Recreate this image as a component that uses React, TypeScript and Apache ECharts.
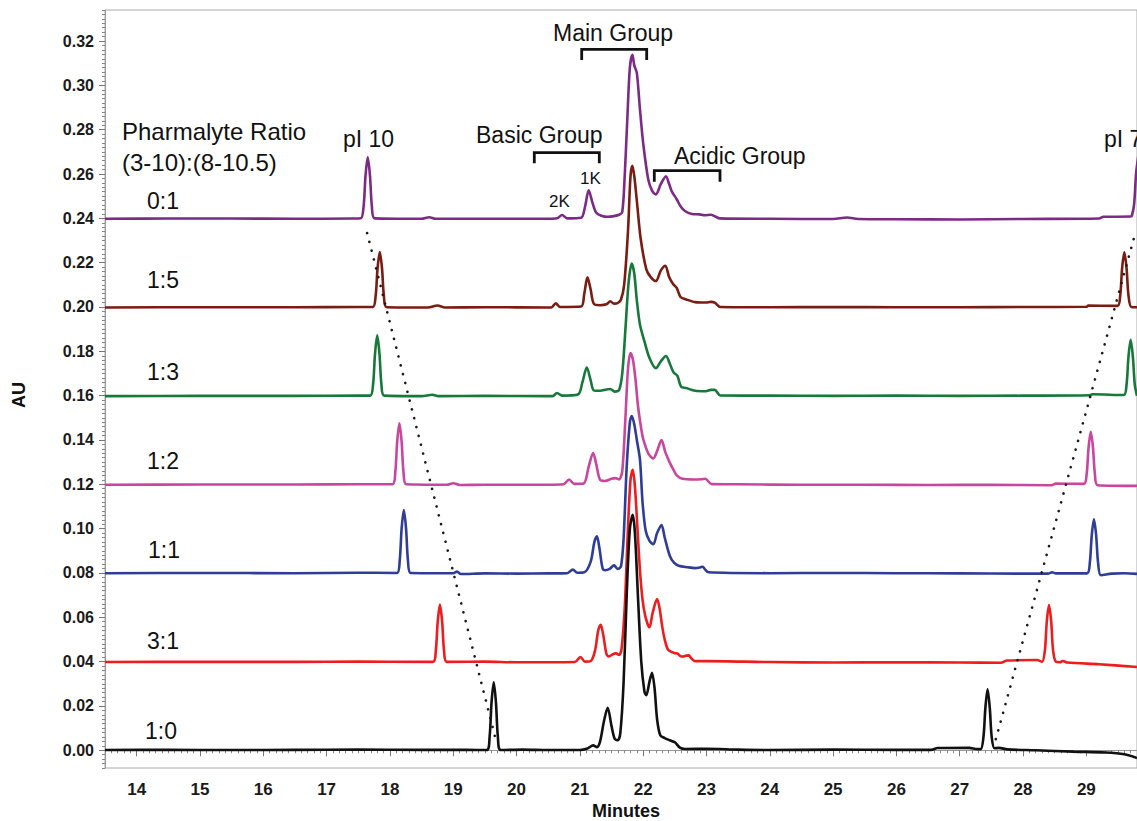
import React, { useEffect, useRef } from "react";
import * as echarts from "echarts";

const xMajorTicks = [14, 15, 16, 17, 18, 19, 20, 21, 22, 23, 24, 25, 26, 27, 28, 29];
const yMajorTicks = [0, 0.02, 0.04, 0.06, 0.08, 0.1, 0.12, 0.14, 0.16, 0.18, 0.2, 0.22, 0.24, 0.26, 0.28, 0.3, 0.32];

const ratioNames = ["0:1", "1:5", "1:3", "1:2", "1:1", "3:1", "1:0"];
const traceColors = ["#7d2a86", "#7b1c12", "#16793a", "#c8469e", "#2e3d98", "#ee1c1c", "#111111"];

// 0:1 (purple, offset 0.24)
const ratio0to1 = [
  [13.5, 0.2398], [14.5, 0.2399], [15.5, 0.2399], [16.5, 0.2398], [17.4, 0.2399], [17.54, 0.24], [17.585, 0.2455], [17.615, 0.2593], [17.65, 0.2675], [17.685, 0.2593], [17.715, 0.2455], [17.76, 0.24],
  [18.5, 0.2398], [18.62, 0.2405], [18.72, 0.2398], [19.5, 0.2398], [20.5, 0.2398], [20.64, 0.24], [20.72, 0.2415], [20.8, 0.24],
  [21.02, 0.2403], [21.08, 0.245], [21.14, 0.2526], [21.2, 0.247], [21.26, 0.2425], [21.34, 0.2412], [21.44, 0.2407], [21.54, 0.241], [21.62, 0.2416], [21.67, 0.2428],
  [21.71, 0.26], [21.75, 0.285], [21.79, 0.308], [21.83, 0.3138], [21.86, 0.309], [21.9, 0.3056], [21.95, 0.289], [22.0, 0.274], [22.08, 0.2576], [22.14, 0.2525], [22.2, 0.2508],
  [22.28, 0.2555], [22.36, 0.259], [22.41, 0.2555], [22.45, 0.2523], [22.53, 0.2486], [22.59, 0.2455], [22.66, 0.2433], [22.77, 0.242], [22.89, 0.2418], [22.97, 0.2414], [23.07, 0.2416], [23.14, 0.2408], [23.21, 0.24],
  [24, 0.2398], [25, 0.2397], [25.22, 0.2404], [25.4, 0.2397], [26, 0.2396], [27, 0.2395], [28, 0.2397], [29.2, 0.2399], [29.27, 0.2407], [29.7, 0.2408], [29.72, 0.2412], [29.755, 0.2465], [29.785, 0.26], [29.82, 0.268],
];

// 1:5 (dark red, offset 0.20)
const ratio1to5 = [
  [13.5, 0.1998], [15, 0.1999], [16.5, 0.1999], [17.5, 0.2], [17.73, 0.2], [17.775, 0.205], [17.805, 0.2175], [17.84, 0.2248], [17.875, 0.2175], [17.905, 0.205], [17.95, 0.1999],
  [18.6, 0.1998], [18.75, 0.2007], [18.87, 0.1998], [19.5, 0.1999], [20.5, 0.1998], [20.55, 0.1998], [20.62, 0.2017], [20.69, 0.2],
  [21.02, 0.2002], [21.07, 0.206], [21.12, 0.2134], [21.17, 0.208], [21.22, 0.2015], [21.32, 0.2008], [21.42, 0.2012], [21.48, 0.2026], [21.54, 0.2015], [21.6, 0.2018], [21.65, 0.2034],
  [21.7, 0.21], [21.76, 0.234], [21.8, 0.259], [21.83, 0.2637], [21.86, 0.259], [21.9, 0.248], [21.96, 0.231], [22.05, 0.217], [22.12, 0.2135], [22.2, 0.2117],
  [22.28, 0.2165], [22.35, 0.2186], [22.41, 0.2135], [22.47, 0.2105], [22.53, 0.2086], [22.59, 0.2045], [22.68, 0.2034], [22.82, 0.2022], [22.99, 0.202], [23.07, 0.2023], [23.13, 0.202], [23.22, 0.2],
  [24, 0.1999], [25, 0.2], [26, 0.1999], [27, 0.1999], [28, 0.2], [29.0, 0.2001], [29.03, 0.2006], [29.49, 0.2005], [29.535, 0.2053], [29.565, 0.2175], [29.6, 0.2247], [29.635, 0.2175], [29.665, 0.2053], [29.71, 0.2], [29.8, 0.1999],
];

// 1:3 (green, offset 0.16)
const ratio1to3 = [
  [13.5, 0.1598], [15, 0.1599], [16.5, 0.1599], [17.5, 0.16], [17.69, 0.16], [17.735, 0.1654], [17.765, 0.179], [17.8, 0.1872], [17.835, 0.179], [17.865, 0.1654], [17.91, 0.16],
  [18.5, 0.1598], [18.67, 0.1604], [18.77, 0.1598], [19.5, 0.1599], [20.5, 0.1598], [20.57, 0.1598], [20.64, 0.1612], [20.72, 0.16],
  [20.97, 0.1605], [21.04, 0.166], [21.11, 0.1727], [21.17, 0.167], [21.22, 0.1624], [21.32, 0.1622], [21.42, 0.1628], [21.48, 0.163], [21.55, 0.1618], [21.62, 0.1625],
  [21.67, 0.17], [21.72, 0.19], [21.77, 0.211], [21.82, 0.2196], [21.86, 0.215], [21.9, 0.203], [21.95, 0.192], [22.02, 0.1845], [22.1, 0.177], [22.2, 0.1724],
  [22.28, 0.1755], [22.36, 0.1779], [22.42, 0.1745], [22.48, 0.1705], [22.54, 0.169], [22.6, 0.164], [22.68, 0.1634], [22.82, 0.1622], [22.99, 0.162], [23.07, 0.1626], [23.13, 0.1626], [23.22, 0.1601],
  [24, 0.16], [25, 0.1599], [26, 0.16], [27, 0.1599], [28, 0.16], [29.05, 0.1602], [29.1, 0.1606], [29.59, 0.1603], [29.635, 0.165], [29.665, 0.1775], [29.7, 0.1852], [29.735, 0.1775], [29.765, 0.165], [29.8, 0.1599],
];

// 1:2 (pink, offset 0.12)
const ratio1to2 = [
  [13.5, 0.1198], [15, 0.1199], [16.5, 0.1199], [17.5, 0.12], [18.04, 0.12], [18.085, 0.1255], [18.115, 0.1393], [18.15, 0.1475], [18.185, 0.1393], [18.215, 0.1255], [18.26, 0.12],
  [18.9, 0.1198], [19.0, 0.1205], [19.1, 0.1197], [19.5, 0.1198], [20.5, 0.1198], [20.74, 0.12], [20.83, 0.1222], [20.91, 0.1202],
  [21.06, 0.1204], [21.14, 0.128], [21.21, 0.1341], [21.26, 0.129], [21.32, 0.122], [21.4, 0.1215], [21.5, 0.1225], [21.56, 0.1228], [21.62, 0.1222],
  [21.67, 0.126], [21.72, 0.15], [21.76, 0.172], [21.8, 0.1792], [21.84, 0.176], [21.88, 0.167], [21.92, 0.155], [21.97, 0.145], [22.0, 0.1405], [22.08, 0.134], [22.16, 0.1317],
  [22.22, 0.135], [22.29, 0.14], [22.35, 0.1345], [22.42, 0.1298], [22.48, 0.1265], [22.53, 0.124], [22.62, 0.1225], [22.8, 0.1222], [22.92, 0.1223], [22.98, 0.1225], [23.08, 0.1201],
  [23.5, 0.12], [24.5, 0.1198], [25.5, 0.1198], [26.5, 0.1197], [27.5, 0.1198], [28.45, 0.1196], [28.52, 0.1203], [28.96, 0.1202], [29.005, 0.1247], [29.035, 0.1366], [29.07, 0.1437], [29.105, 0.1366], [29.135, 0.1247], [29.18, 0.1196], [29.8, 0.1193],
];

// 1:1 (blue, offset 0.08)
const ratio1to1 = [
  [13.5, 0.0799], [15, 0.08], [16.5, 0.0799], [17.5, 0.0801], [18.11, 0.08], [18.155, 0.0857], [18.185, 0.1], [18.22, 0.1084], [18.255, 0.1], [18.285, 0.0857], [18.33, 0.08],
  [19.0, 0.0799], [19.06, 0.0806], [19.12, 0.0795], [19.5, 0.0798], [20, 0.0797], [20.5, 0.0798], [20.8, 0.0799], [20.89, 0.0815], [20.96, 0.0801],
  [21.07, 0.0803], [21.17, 0.085], [21.23, 0.094], [21.27, 0.0965], [21.31, 0.091], [21.36, 0.082], [21.4, 0.0812], [21.47, 0.0818], [21.54, 0.0834], [21.6, 0.0818], [21.65, 0.083],
  [21.69, 0.095], [21.74, 0.128], [21.79, 0.148], [21.82, 0.1508], [21.86, 0.147], [21.9, 0.14], [21.95, 0.131], [21.99, 0.112], [22.04, 0.099], [22.1, 0.0945], [22.16, 0.093],
  [22.22, 0.098], [22.29, 0.1016], [22.34, 0.096], [22.42, 0.0878], [22.49, 0.0845], [22.56, 0.0833], [22.7, 0.0826], [22.82, 0.0822], [22.9, 0.0825], [22.94, 0.0828], [22.98, 0.0815], [23.03, 0.0803],
  [24, 0.0799], [25, 0.08], [26, 0.0799], [27, 0.0798], [28, 0.0797], [28.4, 0.0797], [28.46, 0.0803], [28.52, 0.0798], [29.01, 0.0798], [29.055, 0.0847], [29.085, 0.0969], [29.12, 0.1042], [29.155, 0.0969], [29.185, 0.0847], [29.23, 0.079], [29.4, 0.0797], [29.6, 0.0799], [29.8, 0.0796],
];

// 3:1 (red, offset 0.04)
const ratio3to1 = [
  [13.5, 0.0398], [15, 0.0399], [16.5, 0.0399], [17.5, 0.04], [18.68, 0.0399], [18.725, 0.045], [18.755, 0.058], [18.79, 0.0657], [18.825, 0.058], [18.855, 0.045], [18.9, 0.0399],
  [19.5, 0.04], [20, 0.0397], [20.5, 0.0397], [20.92, 0.0398], [21.01, 0.0421], [21.08, 0.04], [21.17, 0.0402], [21.24, 0.045], [21.29, 0.054], [21.33, 0.0566], [21.37, 0.052], [21.42, 0.0435], [21.46, 0.0423], [21.52, 0.0433], [21.57, 0.0437], [21.62, 0.043],
  [21.66, 0.046], [21.71, 0.065], [21.76, 0.1], [21.8, 0.122], [21.835, 0.1265], [21.87, 0.119], [21.91, 0.1], [21.95, 0.081], [21.99, 0.068], [22.03, 0.061], [22.07, 0.057], [22.1, 0.0555],
  [22.15, 0.062], [22.22, 0.0682], [22.26, 0.064], [22.3, 0.056], [22.34, 0.05], [22.39, 0.0455], [22.44, 0.0445], [22.5, 0.0438], [22.54, 0.0437], [22.59, 0.0425], [22.63, 0.0423], [22.68, 0.0427], [22.72, 0.0428], [22.76, 0.0415], [22.82, 0.0402],
  [23, 0.0402], [24, 0.0398], [25, 0.0396], [26, 0.0397], [27, 0.0396], [27.65, 0.0395], [27.75, 0.0405], [28.22, 0.0407], [28.3, 0.0399], [28.345, 0.045], [28.375, 0.058], [28.41, 0.0655], [28.445, 0.058], [28.475, 0.045], [28.52, 0.0399], [28.58, 0.0397], [28.63, 0.0403], [28.7, 0.0396], [29.2, 0.0388], [29.8, 0.0376],
];

// 1:0 (black, offset 0)
const ratio1to0 = [
  [13.5, 0.0001], [14.5, 0.0002], [15.5, 0.0001], [16.5, 0.0002], [17.5, 0.0003], [18.5, 0.0002], [19.2, 0.0002], [19.53, 0.0001], [19.575, 0.0062], [19.605, 0.0215], [19.64, 0.0307], [19.675, 0.0215], [19.705, 0.0062], [19.75, 0.0001],
  [20.1, 0.0003], [20.5, 0.0001], [21.0, 0.0001], [21.12, 0.0008], [21.21, 0.0022], [21.27, 0.0014], [21.32, 0.004], [21.38, 0.013], [21.44, 0.0192], [21.5, 0.011], [21.55, 0.0052], [21.6, 0.0045],
  [21.64, 0.008], [21.69, 0.03], [21.74, 0.07], [21.79, 0.1], [21.835, 0.1062], [21.87, 0.098], [21.92, 0.068], [21.97, 0.04], [22.02, 0.0265], [22.05, 0.0248], [22.1, 0.031], [22.14, 0.035], [22.18, 0.028], [22.22, 0.014], [22.27, 0.0068],
  [22.34, 0.0055], [22.42, 0.0045], [22.5, 0.0036], [22.58, 0.0012], [22.66, 0.0006], [23.0, 0.0007], [23.5, 0.0003], [24, 0.0001], [25, 0.0003], [26, 0.0002], [26.55, 0.0002], [26.65, 0.001], [27.15, 0.0011], [27.25, 0.0006],
  [27.33, 0.0005], [27.375, 0.006], [27.405, 0.019], [27.44, 0.0275], [27.475, 0.019], [27.505, 0.006], [27.55, 0.0009], [27.62, 0.0011], [27.75, 0.0004], [28.2, 0.0], [28.8, -0.0006], [29.3, -0.001], [29.6, -0.0018], [29.8, -0.0035],
];

const traces = [ratio0to1, ratio1to5, ratio1to3, ratio1to2, ratio1to1, ratio3to1, ratio1to0];

const pI10Trend = [[17.64, 0.2334], [19.67, 0.005]];
const pI7Trend = [[27.57, 0.005], [29.77, 0.233]];

const FONT = "'Liberation Sans', Arial, Helvetica, sans-serif";

export default function App() {
  const ref = useRef<HTMLDivElement>(null);
  useEffect(() => {
    const chart = echarts.init(ref.current as HTMLDivElement, null, { renderer: "svg" });

    const txt = (text: string, x: number, y: number, size: number, extra: any = {}) => ({
      type: "text",
      x,
      y,
      silent: true,
      z: 100,
      style: {
        text, fill: "#111", fontSize: size, fontFamily: FONT, fontWeight: "normal",
        align: "left", verticalAlign: "middle", ...extra,
      },
    });
    const bracket = (x1: number, x2: number, yTop: number, yLeg: number) => ({
      type: "polyline",
      silent: true,
      z: 100,
      shape: { points: [[x1, yLeg], [x1, yTop], [x2, yTop], [x2, yLeg]] },
      style: { stroke: "#111", lineWidth: 2.8, fill: null },
    });

    const ratioLabelPos = [
      [147, 201], [147, 280], [147, 372], [147, 461], [148, 550], [147, 641], [145, 731],
    ];

    const option: any = {
      animation: false,
      backgroundColor: "#ffffff",
      grid: { left: 105, right: -2, top: 10, bottom: 53, show: true, borderColor: "#aaaaaa", borderWidth: 1, backgroundColor: "transparent" },
      xAxis: [
        {
          type: "value", min: 13.5, max: 29.8, interval: 0.1, position: "bottom",
          axisLine: { show: true, lineStyle: { color: "#999999", width: 1 } },
          axisTick: { show: true, length: 3, lineStyle: { color: "#888888", width: 1 } },
          axisLabel: { show: false }, splitLine: { show: false },
        },
        {
          type: "value", min: 13.5, max: 29.8, position: "bottom",
          axisLine: { show: false },
          axisTick: { show: true, length: 6, customValues: xMajorTicks, lineStyle: { color: "#777777", width: 1 } },
          axisLabel: { show: true, customValues: xMajorTicks, margin: 13, color: "#1a1a1a", fontWeight: "bold", fontSize: 17, fontFamily: FONT },
          splitLine: { show: false },
        },
      ],
      yAxis: [
        {
          type: "value", min: -0.008, max: 0.334, interval: 0.002, position: "left",
          axisLine: { show: true, lineStyle: { color: "#999999", width: 1 } },
          axisTick: { show: true, length: 3, lineStyle: { color: "#888888", width: 1 } },
          axisLabel: { show: false }, splitLine: { show: false },
        },
        {
          type: "value", min: -0.008, max: 0.334, position: "left", offset: 0,
          axisLine: { show: false },
          axisTick: { show: true, length: 6, customValues: yMajorTicks, lineStyle: { color: "#777777", width: 1 } },
          axisLabel: {
            show: true, customValues: yMajorTicks, margin: 11, color: "#1a1a1a", fontWeight: "bold", fontSize: 16, fontFamily: FONT,
            formatter: (v: number) => v.toFixed(2),
          },
          splitLine: { show: false },
        },
      ],
      series: [
        ...traces.map((data, i) => ({
          type: "line",
          name: ratioNames[i],
          data,
          xAxisIndex: 0,
          yAxisIndex: 0,
          symbol: "none",
          smooth: 0.3,
          silent: true,
          clip: true,
          lineStyle: { color: traceColors[i], width: 2.6 },
          z: 2 + i,
        })),
        ...[pI10Trend, pI7Trend].map((data) => ({
          type: "line",
          data,
          xAxisIndex: 0,
          yAxisIndex: 0,
          symbol: "none",
          silent: true,
          lineStyle: { color: "#1a1a1a", width: 2.6, type: [0.1, 9], cap: "round" },
          z: 20,
        })),
      ],
      graphic: [
        txt("Pharmalyte Ratio", 122, 131, 24),
        txt("(3-10):(8-10.5)", 122, 162, 24),
        txt("pI 10", 343, 139, 23),
        txt("pI 7", 1104, 139, 23),
        txt("Main Group", 553, 33, 23),
        txt("Basic Group", 476, 135, 23),
        txt("Acidic Group", 674, 156, 23),
        txt("1K", 580, 178, 17),
        txt("2K", 549, 201, 17),
        ...ratioNames.map((n, i) => txt(n, ratioLabelPos[i][0], ratioLabelPos[i][1], 23)),
        bracket(581.7, 646.7, 49.3, 60),
        bracket(534.3, 599.3, 152.7, 163.3),
        bracket(654.3, 720, 170.7, 181.7),
        txt("Minutes", 626, 811, 18, { align: "center", fontWeight: "bold" }),
        {
          type: "text", x: 19, y: 395, rotation: Math.PI / 2, silent: true,
          style: { text: "AU", fill: "#111", fontSize: 18, fontWeight: "bold", fontFamily: FONT, align: "center", verticalAlign: "middle" },
        },
      ],
    };
    chart.setOption(option);
    return () => chart.dispose();
  }, []);
  return (
    <div
      ref={ref}
      style={{ position: "fixed", left: 0, top: 0, width: 1137, height: 821, background: "#ffffff" }}
    />
  );
}
